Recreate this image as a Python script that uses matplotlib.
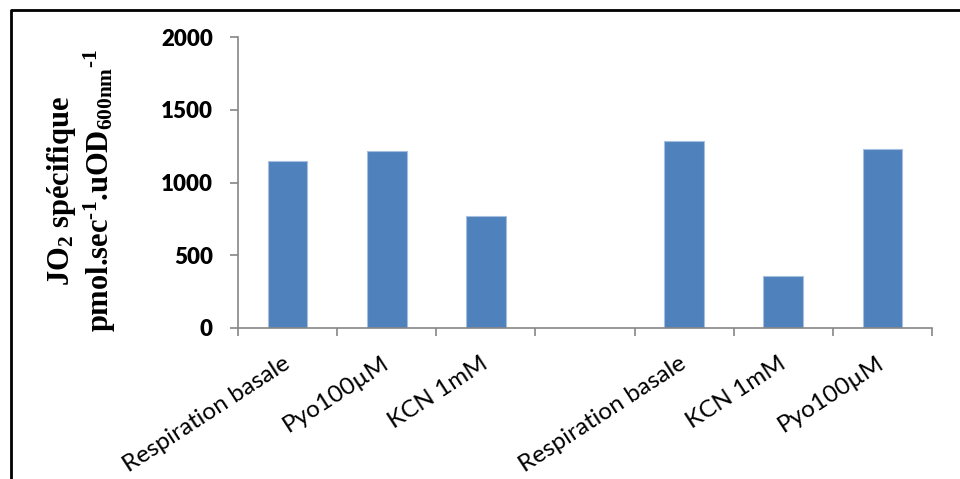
import numpy as np
import matplotlib
matplotlib.use("Agg")
import matplotlib.pyplot as plt
from matplotlib.lines import Line2D

# data
categories = ["Respiration basale", "Pyo100µM", "KCN 1mM", "",
              "Respiration basale", "KCN 1mM", "Pyo100µM"]
values = [1148, 1216, 768, np.nan, 1287, 357, 1228]
y_ticks = [0, 500, 1000, 1500, 2000]

plt.rcParams['mathtext.fontset'] = 'custom'
plt.rcParams['mathtext.rm'] = 'Liberation Serif:bold'
plt.rcParams['mathtext.bf'] = 'Liberation Serif:bold'
plt.rcParams['mathtext.it'] = 'Liberation Serif:bold'

fig = plt.figure(figsize=(9.6, 4.79), dpi=100)
ax = fig.add_axes([238/960, 1-328/479, (932-238)/960, (328-37)/479])

x = np.arange(len(categories))
ax.bar(x, values, width=0.4, color='#4F81BD', edgecolor='#A7BFDE', linewidth=0.8)

ax.set_xlim(-0.5, len(categories)-0.5)
ax.set_ylim(0, 2000)
ax.set_yticks(y_ticks)
ax.set_yticklabels([str(v) for v in y_ticks], fontfamily='Lato', fontweight='heavy', fontsize=16)

# category ticks sit between the bars
ax.set_xticks(np.arange(len(categories)+1)-0.5)
ax.set_xticklabels([])
ax.set_xticks(x, minor=True)
ax.set_xticklabels(categories, minor=True, rotation=33, ha='right', va='center',
                   rotation_mode='anchor', fontfamily='Lato', fontsize=17.5)
ax.tick_params(axis='x', which='minor', length=0, pad=24)
ax.tick_params(axis='x', which='major', length=6, width=1.2, color='#868686', direction='out')
ax.tick_params(axis='y', length=6, width=1.2, color='#868686', pad=12)

for s in ['top', 'right']:
    ax.spines[s].set_visible(False)
for s in ['left', 'bottom']:
    ax.spines[s].set_color('#868686')
    ax.spines[s].set_linewidth(1.2)

fig.text(62/960, 1-191/479, r'JO$_{2}$ spécifique', rotation=90, ha='center', va='center',
         fontfamily='Liberation Serif', fontweight='bold', fontsize=22)
fig.text(100/960, 1-190/479, 'pmol.sec$^{\u2010 1}$.uOD$_{600nm}$$^{\u20101}$', rotation=90,
         ha='center', va='center', fontfamily='Liberation Serif', fontweight='bold', fontsize=22)

# outer frame (only left and top edges visible in the crop)
fig.add_artist(Line2D([11/960, 11/960, 1], [0, 1-10/479, 1-10/479],
                      transform=fig.transFigure, color='black', linewidth=2))

fig.savefig('out.png', dpi=100)
